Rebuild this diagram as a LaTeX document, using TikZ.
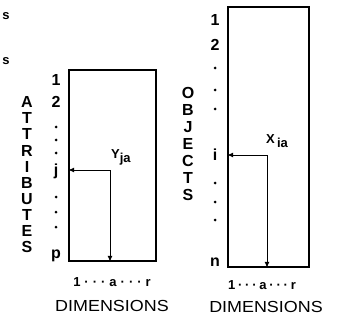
\documentclass[tikz,border=0pt]{standalone}
\usepackage{fontspec}
\setmainfont{Liberation Sans}
\newfontfamily\widefont[FakeStretch=1.12]{Liberation Sans}
\usetikzlibrary{arrows.meta}
\newcommand{\sepk}[1]{\hspace{#1}}
\tikzset{
  frame/.style={draw, line width=1.6pt, inner sep=0pt},
  lbl/.style={font=\fontsize{16}{16}\selectfont\bfseries, inner sep=0pt},
  vlbl/.style={font=\fontsize{16}{16}\selectfont\bfseries, inner sep=0pt, text height=11.5pt, text depth=0pt},
  idx/.style={font=\fontsize{13}{13}\selectfont\bfseries, inner sep=0pt},
  axl/.style={font=\fontsize{13}{13}\selectfont\bfseries, inner sep=0pt},
  dim/.style={font=\widefont\fontsize{16}{16}\selectfont, inner sep=0pt},
  dotm/.style={circle, fill, inner sep=0pt, minimum size=3pt},
  link/.style={line width=1pt},
  tip/.style={-{Latex[length=6pt,width=5pt]}},
}
\begin{document}
\begin{tikzpicture}[x=1pt,y=-1pt]
\useasboundingbox (0,0) rectangle (350,323);
% stray marks
\node[font=\fontsize{13}{13}\selectfont\bfseries, inner sep=0pt] (s1) at (6,16) {s};
\node[font=\fontsize{13}{13}\selectfont\bfseries, inner sep=0pt] (s2) at (6,61) {s};
% left frame
\node[frame, minimum width=87pt, minimum height=191pt] (L) at (112.5,165.5) {};
% right frame
\node[frame, minimum width=81pt, minimum height=260pt] (R) at (268.5,137) {};
% left row labels
\node[lbl] (l1) at (56,80) {1};
\node[lbl] (l2) at (56,102) {2};
\node[dotm] (ld1) at (56,127) {};
\node[dotm] (ld2) at (56,140) {};
\node[dotm] (ld3) at (56,153) {};
\node[lbl] (lj) at (56,171) {j};
\node[dotm] (ld4) at (56,197) {};
\node[dotm] (ld5) at (56,212) {};
\node[dotm] (ld6) at (56,227) {};
\node[lbl] (lp) at (56,256) {p};
% ATTRIBUTES
\foreach \c [count=\k] in {A,T,T,R,I,B,U,T,E,S}
  \node[vlbl] (att\k) at (27,{102+16.1*(\k-1)}) {\c};
% right row labels
\node[lbl] (r1) at (215,20) {1};
\node[lbl] (r2) at (215,45) {2};
\node[dotm] (rd1) at (215,68) {};
\node[dotm] (rd2) at (215,90) {};
\node[dotm] (rd3) at (215,109) {};
\node[lbl] (ri) at (215,155) {i};
\node[dotm] (rd4) at (215,183) {};
\node[dotm] (rd5) at (215,202) {};
\node[dotm] (rd6) at (215,220) {};
\node[lbl] (rn) at (215,262) {n};
% OBJECTS
\foreach \c [count=\k] in {O,B,J,E,C,T,S}
  \node[vlbl] (obj\k) at (188,{93+17*(\k-1)}) {\c};
% entries
\coordinate (yja) at (110,170);
\coordinate (xia) at (267,155);
\draw[link,tip] (yja) -- (yja -| L.west);
\draw[link,tip] (yja) -- (yja |- L.south);
\draw[link,tip] (xia) -- (xia -| R.west);
\draw[link,tip] (xia) -- (xia |- R.south);
\node[idx, anchor=south west] (ylab) at (111,165) {Y\raisebox{-4pt}{ja}};
\node[idx, anchor=south west] (xlab) at (266,148) {X\raisebox{-4pt}{\,ia}};
% bottom labels
\node[axl] (lax) at (112,282) {1\sepk{4pt}·\sepk{4pt}·\sepk{4pt}·\sepk{4pt}a\sepk{4pt}·\sepk{4pt}·\sepk{4pt}·\sepk{4pt}r};
\node[dim] (ldim) at (112,306) {DIMENSIONS};
\node[axl] (rax) at (262,285) {1\sepk{2.8pt}·\sepk{2.8pt}·\sepk{2.8pt}·\sepk{2.8pt}a\sepk{2.8pt}·\sepk{2.8pt}·\sepk{2.8pt}·\sepk{2.8pt}r};
\node[dim] (rdim) at (266,307) {DIMENSIONS};
\end{tikzpicture}
\end{document}
